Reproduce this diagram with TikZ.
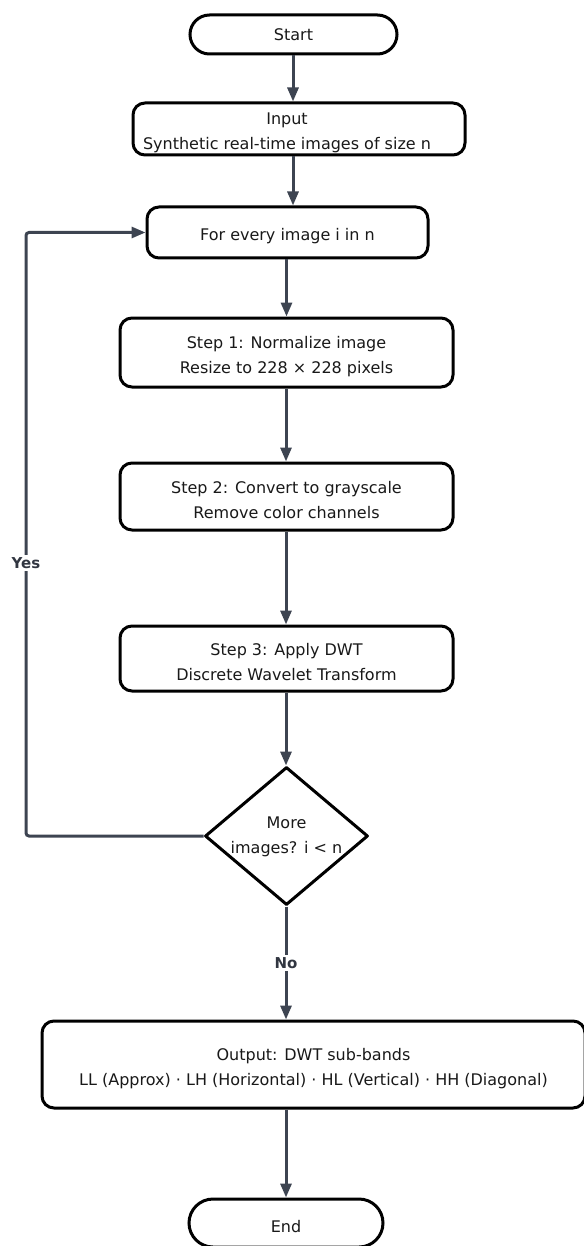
\documentclass[tikz,border=0pt]{standalone}
\usepackage{fontspec}
\setmainfont{DejaVu Sans}
\usetikzlibrary{shapes.geometric,arrows.meta}
\definecolor{arrowc}{HTML}{3D4451}
\newcommand{\lowr}{\rule{0pt}{20pt}}
\begin{document}
\begin{tikzpicture}[x=1pt,y=-1pt,
  txt/.style={font=\fontsize{16pt}{25pt}\selectfont, align=center, text=black!90},
  box/.style={txt, draw=black, line width=3pt, fill=white, rounded corners=12pt, inner sep=0pt},
  term/.style={box, rounded corners=19.5pt},
  decision/.style={diamond, draw=black, line width=3pt, fill=white, inner sep=0pt, line join=round},
  arr/.style={draw=arrowc, line width=3pt, -{Triangle[length=14pt,width=11pt]}},
  lbl/.style={font=\fontsize{15pt}{16pt}\selectfont\bfseries, text=arrowc!80!black, fill=white, inner sep=2pt}
]
\useasboundingbox (0,0) rectangle (583,1246);

\node[term, minimum width=207pt, minimum height=39pt] (start) at (293.5,34.5) {Start};
\node[box, minimum width=332pt, minimum height=52pt] (input) at (299,129) {};
\node[txt] (inputtxt) at (287,132.5) {Input\\Synthetic real-time images of size n};
\node[box, minimum width=281pt, minimum height=51pt] (for) at (287.5,232.5) {\lowr For every image i in n};
\node[box, minimum width=333pt, minimum height=69pt] (s1) at (286.5,352.5) {\lowr Step 1: Normalize image\\Resize to 228 × 228 pixels};
\node[box, minimum width=333pt, minimum height=67pt] (s2) at (286.5,496.5) {\lowr Step 2: Convert to grayscale\\Remove color channels};
\node[box, minimum width=333pt, minimum height=65pt] (s3) at (286.5,658.5) {\lowr Step 3: Apply DWT\\Discrete Wavelet Transform};
\node[decision, minimum width=163pt, minimum height=138pt] (dec) at (286.5,836) {};
\node[txt] (dectxt) at (286.5,837) {More\\images? i < n};
\node[box, minimum width=543pt, minimum height=87pt] (out) at (313.5,1064.5) {\lowr Output: DWT sub-bands\\LL (Approx) · LH (Horizontal) · HL (Vertical) · HH (Diagonal)};
\node[term, rounded corners=24pt, minimum width=194pt, minimum height=48pt] (end) at (286,1223) {\lowr End};

\coordinate (c1) at (293,0);
\coordinate (c2) at (286,0);
\coordinate (lx) at (26,0);

\draw[arr] (start.south -| c1) -- (input.north -| c1);
\draw[arr] (input.south -| c1) -- (for.north -| c1);
\draw[arr] (for.south -| s1) -- (s1.north);
\draw[arr] (s1.south -| c2) -- (s2.north -| c2);
\draw[arr] (s2.south -| c2) -- (s3.north -| c2);
\draw[arr] (s3.south -| c2) -- (dec.north -| c2);
\draw[arr] (dec.south -| c2) -- (out.north -| c2) node[lbl, pos=0.5] (no) {No};
\draw[arr] (out.south -| c2) -- (end.north -| c2);
\draw[arr, rounded corners=3pt] (dec.west) -- (dec.west -| lx) -- (for.west -| lx) -- (for.west);
\node[lbl] (yes) at (26,563) {Yes};
\end{tikzpicture}
\end{document}
